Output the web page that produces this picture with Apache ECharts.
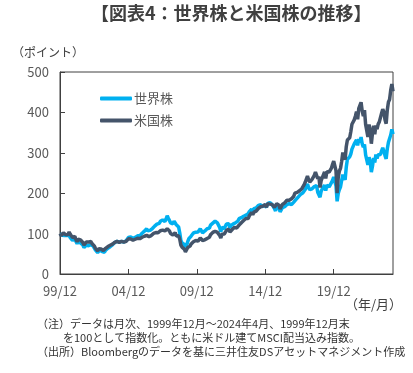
<!DOCTYPE html>
<html><head><meta charset="utf-8">
<script src="https://cdn.jsdelivr.net/npm/echarts@6/dist/echarts.min.js"></script>
<style>html,body{margin:0;padding:0;background:#fff}#c{width:413px;height:373px}</style>
</head><body><div id="c"></div>
<script>
// Monthly index, Dec 1999 = 100
const startYear = 1999, startMonth = 12, endYear = 2024, endMonth = 4;
const seriesNames = ['世界株', '米国株'];
const yTicks = [0, 100, 200, 300, 400, 500];
const xTickLabels = ['99/12', '04/12', '09/12', '14/12', '19/12'];

const world = [
 100,
 95.5, 96, 100, 95, 93, 95.5, 93, 95.5, 90, 88, 83, 85.5,
 87.5, 80.5, 75, 80.5, 79.5, 77, 75.5, 72, 65.5, 67, 71, 72,
 70, 69.5, 72.5, 69.5, 69.5, 65, 59.5, 59.5, 53, 57, 60, 57.5,
 55.5, 54.5, 54, 59, 62.5, 64, 65.5, 67.5, 68, 72, 73.5, 78,
 79.5, 81, 81, 79, 79.5, 81, 78.5, 79, 80.5, 82.5, 87, 90.5,
 89, 92, 90, 88, 89.5, 90.5, 93.5, 94.5, 97.5, 94.5, 98, 101,
 105.5, 106, 108.5, 112, 107, 107, 108, 110.5, 112.5, 116, 118.5, 122,
 123.5, 123, 125.5, 130.5, 134, 134, 131.5, 130, 136, 144, 138, 137,
 126.5, 125.5, 124, 131, 133, 122, 119.5, 116.5, 102, 83, 77, 80,
 73, 66.5, 71.5, 80, 87.5, 87, 94, 97.5, 101.5, 99.5, 103.5, 107,
 104, 105.5, 112, 111.5, 102, 99, 106.5, 103, 112, 116, 113.5, 121,
 123.5, 126, 126, 131, 128.5, 126.5, 124.5, 115.5, 104.5, 116, 112.5, 112,
 118, 124, 125.5, 124.5, 114.5, 120, 121.5, 124, 128, 127, 128.5, 131,
 137, 137, 139.5, 143.5, 143, 138.5, 145.5, 142, 149, 154.5, 157, 160.5,
 154.5, 161.5, 162, 163.5, 167, 170, 168, 171.5, 166.5, 167.5, 170.5, 167.5,
 165, 174.5, 172, 177, 176.5, 172, 173.5, 162.5, 156, 168.5, 167.5, 164,
 154, 153, 164, 166.5, 166.5, 165.5, 172, 172.5, 174, 171, 172, 176,
 178, 182.5, 184.5, 187, 191, 192, 197, 197.5, 201, 205, 209, 212,
 223, 214, 209, 211, 211, 210, 216.5, 218, 219, 202.5, 205.5, 190,
 205, 210.5, 213, 220, 206.5, 220, 220.5, 215.5, 220, 226, 232, 240,
 237.5, 218.5, 180, 200, 209, 216, 232, 246, 239, 233, 264, 284,
 283, 290, 297, 309, 313.5, 322, 324, 332, 318, 334, 326, 339,
 322, 314, 321, 295, 295.5, 270, 289, 279, 252, 267, 287, 276,
 296, 286, 295, 299, 296, 305, 312, 304, 293, 285, 310, 326,
 330, 344, 358, 346
];

const us = [
 100,
 95, 93, 102, 99, 97, 99.5, 98, 104, 98.5, 98, 90, 90.5,
 93.5, 85, 80, 86, 86.5, 84.5, 83.5, 78, 72, 73.5, 79, 80,
 79, 77.5, 80.5, 75.5, 75, 69.5, 64, 64.5, 57.5, 62.5, 66, 62,
 60.5, 58, 58.5, 63.5, 67, 68, 69.5, 71, 70, 74, 74.5, 78.5,
 80, 81, 80, 78.5, 79.5, 81, 78.5, 79, 80, 81, 84, 87,
 85, 86.5, 85, 83.5, 86, 86, 89, 88.5, 89, 87.5, 91, 91,
 93.5, 93.5, 94.5, 95.5, 92.5, 92.5, 93, 95, 97.5, 100.5, 102, 102.5,
 104, 102, 103, 107, 110.5, 108.5, 105, 106.5, 110.5, 112, 107.5, 106.5,
 100, 97, 96.5, 101, 102.5, 94, 93, 94.5, 86, 71.5, 66.5, 67,
 61.5, 55, 60, 65.5, 69, 69, 74.5, 77, 80, 78.5, 83, 84.5,
 81.5, 84, 89, 90.5, 83, 79, 84.5, 80.5, 88, 91, 91, 97,
 99.5, 103, 103, 106, 105, 103, 101, 95.5, 89, 98.5, 98, 99,
 103.5, 108, 111.5, 111, 104, 108.5, 110, 112.5, 115.5, 113.5, 114, 115,
 121, 122.5, 127, 129.5, 132.5, 131, 137.5, 133.5, 137.5, 144, 148.5, 152,
 146.5, 153, 154.5, 155.5, 159, 162.5, 160, 166.5, 164, 168, 172.5, 172,
 165, 174, 171.5, 173, 175, 172, 175.5, 165, 161, 174, 174.5, 170.5,
 161, 161, 172, 173, 176, 176.5, 182.5, 182.5, 182.5, 179.5, 186, 189,
 192.5, 200, 200, 202, 205, 206, 210.5, 211, 215.5, 220.5, 227, 229.5,
 242.5, 233.5, 227.5, 228.5, 234, 235.5, 244, 252, 253.5, 236, 241, 214,
 231, 238.5, 243, 252.5, 236.5, 253, 256.5, 252.5, 257, 262, 271.5, 279.5,
 279, 256, 200, 240, 255, 262, 279, 301, 290, 283, 315, 331.5,
 328, 337, 352, 370.5, 373, 381.5, 390.5, 402, 383, 410, 406.5, 425,
 403, 391, 405.5, 370, 370, 339, 370, 355, 322.5, 348.5, 367, 346,
 367.5, 358.5, 371, 376.5, 378, 398, 408, 401, 382, 372, 406, 426,
 432, 455, 470, 452
];

// month categories "yy/mm"
const categories = [];
for (let y = startYear, m = startMonth; y < endYear || (y === endYear && m <= endMonth); ) {
  categories.push(String(y % 100).padStart(2, '0') + '/' + String(m).padStart(2, '0'));
  m++; if (m > 12) { m = 1; y++; }
}

const FONT = '"Noto Sans CJK JP", "Noto Sans", sans-serif';
const chart = echarts.init(document.getElementById('c'), null, {renderer: 'canvas'});
chart.setOption({
  animation: false,
  backgroundColor: '#fff',
  textStyle: {fontFamily: FONT},
  grid: {left: 60, right: 20, top: 72, bottom: 99, show: true, borderColor: '#404040', borderWidth: 1},
  legend: {
    orient: 'vertical', left: 100, top: 92, padding: 0, itemWidth: 32, itemHeight: 4, itemGap: 9,
    icon: 'roundRect',
    textStyle: {fontSize: 13, color: '#595959', fontFamily: FONT, padding: [0, 0, 0, -3]},
    data: seriesNames
  },
  xAxis: {
    type: 'category', data: categories, boundaryGap: false,
    axisLine: {lineStyle: {color: '#404040', width: 1}},
    axisTick: {inside: true, length: 5, interval: 59, lineStyle: {color: '#404040'}},
    axisLabel: {interval: 59, color: '#595959', fontSize: 13, margin: 11, fontFamily: FONT,
      formatter: v => xTickLabels.includes(v) ? v : ''},
    splitLine: {show: false}
  },
  yAxis: {
    type: 'value', min: yTicks[0], max: yTicks[yTicks.length - 1], interval: 100,
    axisLine: {show: true, lineStyle: {color: '#404040', width: 1}},
    axisTick: {show: true, inside: true, length: 5, lineStyle: {color: '#404040'}},
    axisLabel: {color: '#595959', fontSize: 13, margin: 11, fontFamily: FONT},
    splitLine: {show: false}
  },
  series: [
    {name: seriesNames[0], type: 'line', data: world, showSymbol: false, symbol: 'none',
      lineStyle: {color: '#00B0F0', width: 3.5}, itemStyle: {color: '#00B0F0'}},
    {name: seriesNames[1], type: 'line', data: us, showSymbol: false, symbol: 'none',
      lineStyle: {color: '#44546A', width: 3.5}, itemStyle: {color: '#44546A'}}
  ],
  graphic: [
    {type: 'text', left: 91, top: 4, style: {text: '【図表4：世界株と米国株の推移】', font: 'bold 18px ' + FONT, fill: '#404040'}},
    {type: 'text', left: 12, top: 46, style: {text: '（ポイント）', font: '12px ' + FONT, fill: '#404040'}},
    {type: 'text', right: 11, top: 298, style: {text: '（年/月）', font: '13px ' + FONT, fill: '#404040'}},
    {type: 'text', left: 37, top: 318, style: {text: '（注）データは月次、1999年12月～2024年4月、1999年12月末', font: '11px ' + FONT, fill: '#333'}},
    {type: 'text', left: 63, top: 332, style: {text: 'を100として指数化。ともに米ドル建てMSCI配当込み指数。', font: '11px ' + FONT, fill: '#333'}},
    {type: 'text', left: 37, top: 346, style: {text: '（出所）Bloombergのデータを基に三井住友DSアセットマネジメント作成', font: '11px ' + FONT, fill: '#333'}}
  ]
});
</script></body></html>
